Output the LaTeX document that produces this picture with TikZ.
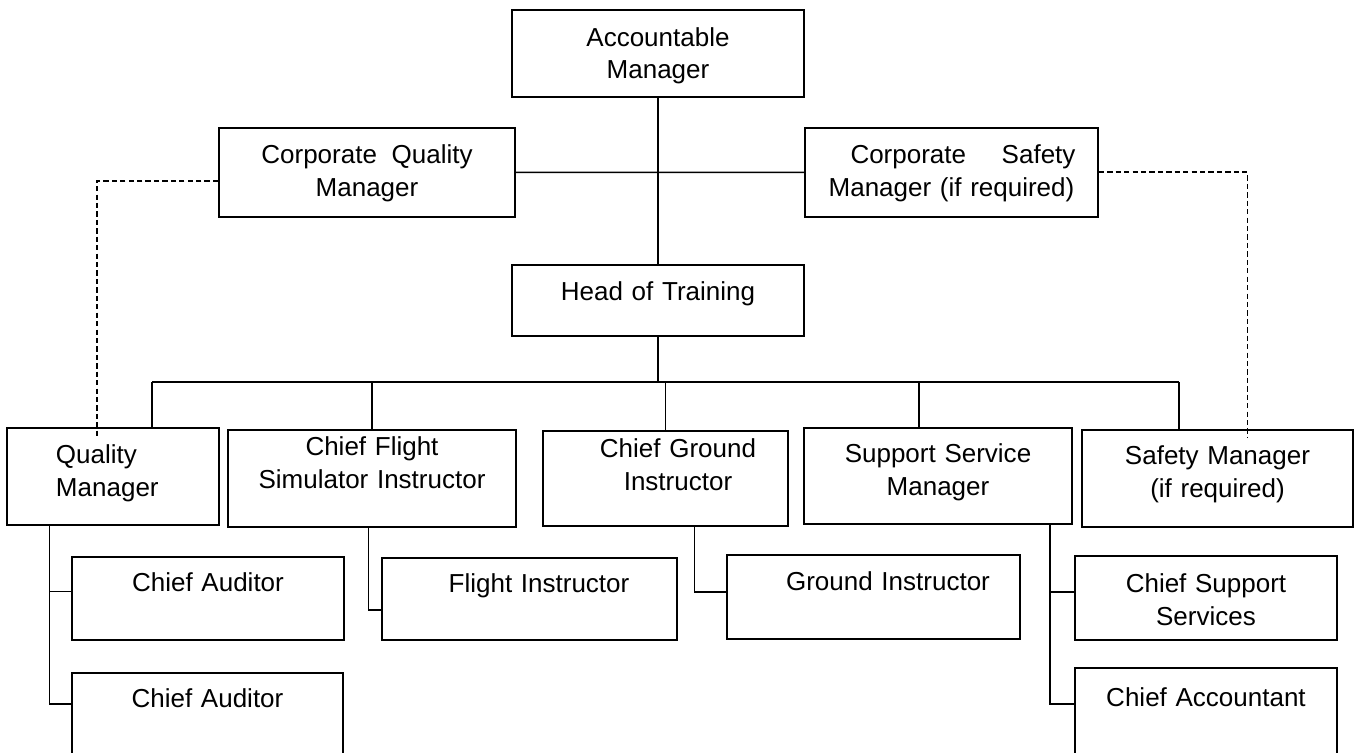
\documentclass[tikz,border=0pt]{standalone}
\usepackage{fontspec}
\setmainfont{Liberation Sans}
\tikzset{
  post/.style={draw, line width=0.032cm, inner sep=0pt, anchor=north, align=center,
    font=\fontsize{14.8pt}{18.7pt}\selectfont},
  link/.style={line width=0.03cm},
  dotlink/.style={line width=0.032cm, dash pattern=on 3pt off 1.8pt}
}
\begin{document}
\begin{tikzpicture}
                    \useasboundingbox (0,0) rectangle (27.32,15.06);
                    \clip (0,0) rectangle (27.32,15.06);

                    % Box Accountable Manager
                    \node [post, text width=5.84cm, text height=0.72cm, text depth=1.014cm] (acc) at (13.16,14.874) {Accountable\\Manager};

                    % Box Corporate Quality Manager
                    \node [post, text width=5.92cm, text height=0.71cm, text depth=1.07cm] (cqm) at (7.34,12.52) {Corporate\hspace{0.12cm} Quality\\Manager};

                    % Box Corporate Safety Manager
                    \node [post, minimum width=5.86cm, text width=4.96cm, text height=0.72cm, text depth=1.06cm] (csm) at (19.03,12.52) {\hspace*{0.46cm}Corporate\hfill Safety\\Manager (if required)};

                    % Box Head of Training
                    \node [post, text width=5.84cm, text height=0.72cm, text depth=0.70cm] (hot) at (13.16,9.78) {Head of Training};

                    % Box Quality Manager
                    \node [post, minimum width=4.24cm, text width=2.28cm, align=left, text height=0.72cm, text depth=1.22cm] (qm) at (2.26,6.52) {Quality\\Manager};

                    % Box Chief Flight Simulator Instructor
                    \node [post, text width=5.76cm, text height=0.52cm, text depth=1.42cm] (cfsi) at (7.44,6.48) {Chief Flight\\Simulator Instructor};

                    % Box Chief Ground Instructor
                    \node [post, text width=4.90cm, text height=0.54cm, text depth=1.36cm] (cgi) at (13.31,6.46) {\hspace*{0.5cm}Chief Ground\\\hspace*{0.5cm}Instructor};

                    % Box Support Service Manager
                    \node [post, text width=5.36cm, text height=0.70cm, text depth=1.22cm] (ssm) at (18.76,6.52) {Support Service\\Manager};

                    % Box Safety Manager
                    \node [post, text width=5.42cm, text height=0.70cm, text depth=1.24cm] (sm) at (24.35,6.48) {Safety Manager\\(if required)\hspace*{0.36cm}};

                    % Box Chief Auditor (first)
                    \node [post, text width=5.44cm, text height=0.70cm, text depth=0.96cm] (ca1) at (4.16,3.94) {Chief Auditor};

                    % Box Chief Auditor (second)
                    \node [post, text width=5.42cm, text height=0.70cm, text depth=1.86cm] (ca2) at (4.15,1.62) {Chief Auditor};

                    % Box Flight Instructor
                    \node [post, text width=5.90cm, text height=0.70cm, text depth=0.94cm] (fi) at (10.59,3.92) {\hspace*{0.38cm}Flight Instructor};

                    % Box Ground Instructor
                    \node [post, text width=5.86cm, text height=0.72cm, text depth=0.96cm] (gi) at (17.47,3.98) {\hspace*{0.58cm}Ground Instructor};

                    % Box Chief Support Services
                    \node [post, text width=5.24cm, text height=0.74cm, text depth=0.94cm] (css) at (24.12,3.96) {Chief Support\\Services};

                    % Box Chief Accountant
                    \node [post, text width=5.24cm, text height=0.78cm, text depth=1.88cm] (cac) at (24.12,1.72) {Chief Accountant};

                    % Drawing line Accountable Manager -- Head of Training
                    \draw [link] (acc.south) -- (hot.north);

                    % Drawing line between corporate managers
                    \draw [link] (cqm.east) -- (csm.west);

                    % Drawing dashed lines to quality and safety managers
                    \draw [dotlink] ([yshift=-0.17cm]cqm.west) -| ([xshift=-0.32cm,yshift=-0.22cm]qm.north);
                    \draw [dotlink] (csm.east) -| ([xshift=0.60cm,yshift=-0.18cm]sm.north);

                    % Drawing bus under Head of Training
                    \coordinate (busL) at (3.04,7.42);
                    \coordinate (busR) at (23.58,7.42);
                    \draw [link] (hot.south) -- (hot.south |- busL);
                    \draw [link] (busL) -- (busR);
                    \draw [link] (busL) -- (busL |- qm.north);
                    \draw [link] (cfsi.north) -- (cfsi.north |- busL);
                    \draw [link] (cgi.north) -- (cgi.north |- busL);
                    \draw [link] ([xshift=-0.38cm]ssm.north) -- ([xshift=-0.38cm]ssm.north |- busL);
                    \draw [link] (busR) -- (busR |- sm.north);

                    % Drawing lines to lower boxes
                    \draw [link] ([xshift=-1.27cm]qm.south) |- ([yshift=0.14cm]ca1.west);
                    \draw [link] ([xshift=-1.27cm]qm.south) |- ([yshift=-0.64cm]ca2.north west);
                    \draw [link] ([xshift=-0.07cm]cfsi.south) |- ([yshift=-0.22cm]fi.west);
                    \draw [link] ([xshift=0.58cm]cgi.south) |- ([yshift=0.10cm]gi.west);
                    \draw [link] ([xshift=2.24cm]ssm.south) |- ([yshift=0.12cm]css.west);
                    \draw [link] ([xshift=2.24cm]ssm.south) |- ([yshift=-0.74cm]cac.north west);
                \end{tikzpicture}
\end{document}
